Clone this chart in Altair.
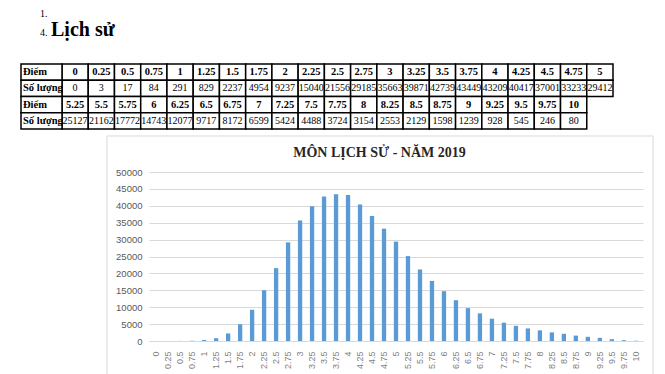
import altair as alt
import pandas as pd

# ---------------- data ----------------
scores = ["0", "0.25", "0.5", "0.75", "1", "1.25", "1.5", "1.75", "2", "2.25",
          "2.5", "2.75", "3", "3.25", "3.5", "3.75", "4", "4.25", "4.5", "4.75",
          "5", "5.25", "5.5", "5.75", "6", "6.25", "6.5", "6.75", "7", "7.25",
          "7.5", "7.75", "8", "8.25", "8.5", "8.75", "9", "9.25", "9.5", "9.75", "10"]
counts = [0, 3, 17, 84, 291, 829, 2237, 4954, 9237, 15040,
          21556, 29185, 35663, 39871, 42739, 43449, 43209, 40417, 37001, 33233,
          29412, 25127, 21162, 17772, 14743, 12077, 9717, 8172, 6599, 5424,
          4488, 3724, 3154, 2553, 2129, 1598, 1239, 928, 545, 246, 80]
row_labels = ["Điểm", "Số lượng", "Điểm", "Số lượng"]
y_ticks = [0, 5000, 10000, 15000, 20000, 25000, 30000, 35000, 40000, 45000, 50000]
chart_title = "MÔN LỊCH SỬ - NĂM 2019"
heading_num = "1."
section_num = "4."
section_title = "Lịch sử"

SERIF = "Liberation Serif"
SANS = "Liberation Sans"

# ---------------- bar chart ----------------
bar_df = pd.DataFrame({"score": scores, "count": counts})
bars = alt.Chart(bar_df).mark_bar(color="#5B9BD5").encode(
    x=alt.X("score:N", sort=scores,
            scale=alt.Scale(type="band", paddingInner=0.64, paddingOuter=0.42),
            axis=alt.Axis(orient="bottom", title=None, labelAngle=270, labelFont=SANS,
                          labelFontSize=9, labelColor="#7f7f7f", ticks=False, tickSize=0,
                          labelPadding=10, domainColor="#d9d9d9", domainWidth=1, grid=False)),
    y=alt.Y("count:Q", scale=alt.Scale(domain=[0, 50000], nice=False),
            axis=alt.Axis(orient="left", title=None, values=y_ticks, format="d",
                          labelFont=SANS, labelFontSize=9.5, labelColor="#595959",
                          ticks=False, tickSize=0, labelPadding=7, domain=False,
                          gridColor="#d9d9d9", gridWidth=1)),
)

# ---------------- table ----------------
half = 21
cells = []
for i, (s, c) in enumerate(zip(scores, counts)):
    block = 0 if i < half else 1
    col = i if i < half else i - half
    cells.append({"col": col, "row": 2 * block, "text": s, "kind": "head"})
    cells.append({"col": col, "row": 2 * block + 1, "text": str(c), "kind": "value"})
table_df = pd.DataFrame(cells)

tx = alt.X("col:O", scale=alt.Scale(type="band", domain=list(range(half)), range=[-87, 464],
                                    paddingInner=0, paddingOuter=0), axis=None)
ty = alt.Y("row:O", scale=alt.Scale(type="band", domain=[0, 1, 2, 3], range=[-108, -43],
                                    paddingInner=0, paddingOuter=0), axis=None)

tbase = alt.Chart(table_df)
t_cells = tbase.mark_rect(fill="white", stroke="black", strokeWidth=1.5).encode(x=tx, y=ty)
t_head = tbase.transform_filter("datum.kind == 'head'").mark_text(
    font=SERIF, fontSize=10.5, fontWeight="bold", color="black", baseline="middle"
).encode(x=tx, y=ty, text="text:N")
t_val = tbase.transform_filter("datum.kind == 'value'").mark_text(
    font=SERIF, fontSize=10, color="black", baseline="middle"
).encode(x=tx, y=ty, text="text:N")
table = alt.layer(t_cells, t_head, t_val)

label_df = pd.DataFrame({"row": [0, 1, 2, 3], "text": row_labels, "c": ["L"] * 4})
lx = alt.X("c:N", scale=alt.Scale(type="band", range=[-128, -87], paddingInner=0, paddingOuter=0),
           axis=None)
lbase = alt.Chart(label_df)
l_cells = lbase.mark_rect(fill="white", stroke="black", strokeWidth=1.5).encode(x=lx, y=ty)
l_text = lbase.mark_text(font=SERIF, fontSize=10.5, fontWeight="bold", color="black",
                         baseline="middle", align="left", dx=2).encode(
    x=alt.X("c:N", bandPosition=0,
            scale=alt.Scale(type="band", range=[-128, -87], paddingInner=0, paddingOuter=0),
            axis=None),
    y=ty, text="text:N")
labels = alt.layer(l_cells, l_text)

# ---------------- texts & frame ----------------
def txt(s, x, y, size, weight="normal", align="left", color="black"):
    return alt.Chart(pd.DataFrame({"t": [s]})).mark_text(
        align=align, baseline="alphabetic", font=SERIF, fontSize=size,
        fontWeight=weight, color=color
    ).encode(x=alt.value(x), y=alt.value(y), text="t:N")

frame = alt.Chart(pd.DataFrame({"a": [0]})).mark_rect(
    filled=False, stroke="#d9d9d9", strokeWidth=1
).encode(x=alt.value(-42), x2=alt.value(504), y=alt.value(-36), y2=alt.value(300))

t1 = txt(heading_num, -109, -155, 10)
t2 = txt(section_num, -109, -136, 10)
t3 = txt(section_title, -98, -136, 20, weight="bold")
t4 = txt(chart_title, 230.5, -15, 14, weight="bold", align="center", color="#262626")

chart = alt.layer(frame, bars, table, labels, t1, t2, t3, t4).resolve_scale(
    x="independent", y="independent"
).properties(
    width=494, height=169,
    autosize=alt.AutoSizeParams(type="none"),
    padding={"left": 141, "top": 164, "right": 14, "bottom": 40},
).configure_view(strokeWidth=0)

chart.save("out.html", embed_options={"renderer": "svg", "actions": False})
